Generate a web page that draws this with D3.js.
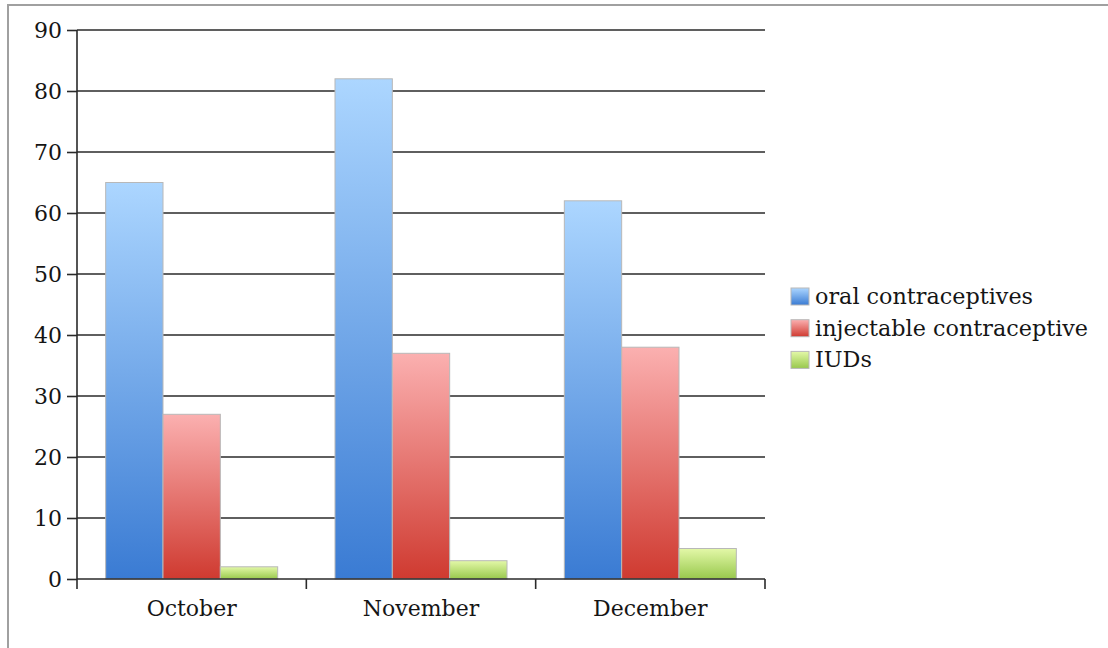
<!DOCTYPE html>
<html>
<head>
<meta charset="utf-8">
<script src="https://cdn.jsdelivr.net/npm/d3@7"></script>
<style>
  html, body { margin: 0; padding: 0; background: #fff; }
  svg { display: block; }
  text { font-family: "DejaVu Serif", "Liberation Serif", serif; fill: #151515; }
</style>
</head>
<body>
<svg id="chart" width="1108" height="648"></svg>
<script>
// Monthly counts per contraceptive method
const months = ["October", "November", "December"];
const seriesNames = ["oral contraceptives", "injectable contraceptive", "IUDs"];
const oral = [65, 82, 62];
const injectable = [27, 37, 38];
const iuds = [2, 3, 5];
const yTicks = [0, 10, 20, 30, 40, 50, 60, 70, 80, 90];

const seriesValues = [oral, injectable, iuds];
const gradients = [
  { id: "gBlue", top: "#acd6ff", bottom: "#3a7bd3" },
  { id: "gRed", top: "#fbb0b0", bottom: "#cf3a30" },
  { id: "gGreen", top: "#e3f8a8", bottom: "#98c84c" }
];

const svg = d3.select("#chart");
const plot = { left: 77, right: 765, top: 30, bottom: 579 };

// outer frame
svg.append("rect")
  .attr("x", 8).attr("y", 5)
  .attr("width", 1200).attr("height", 700)
  .attr("fill", "none").attr("stroke", "#a0a0a0").attr("stroke-width", 2);

const defs = svg.append("defs");
gradients.forEach(g => {
  const lg = defs.append("linearGradient").attr("id", g.id)
    .attr("x1", 0).attr("y1", 0).attr("x2", 0).attr("y2", 1);
  lg.append("stop").attr("offset", "0%").attr("stop-color", g.top);
  lg.append("stop").attr("offset", "100%").attr("stop-color", g.bottom);
});

const y = d3.scaleLinear().domain([0, 90]).range([plot.bottom, plot.top]);
const x0 = d3.scaleBand().domain(months).range([plot.left, plot.right]).paddingInner(0).paddingOuter(0);
const x1 = d3.scaleBand().domain(seriesNames).range([0, x0.bandwidth()]).paddingOuter(0.5).paddingInner(0);

// horizontal gridlines
svg.append("g").selectAll("line").data(yTicks.filter(t => t > 0)).join("line")
  .attr("x1", plot.left).attr("x2", plot.right)
  .attr("y1", d => y(d)).attr("y2", d => y(d))
  .attr("stroke", "#2a2a2a").attr("stroke-width", 1.6);

// bars
const groups = svg.append("g").selectAll("g").data(months).join("g")
  .attr("transform", d => `translate(${x0(d)},0)`);
groups.selectAll("rect")
  .data((m, i) => seriesNames.map((s, k) => ({ s, k, v: seriesValues[k][i] })))
  .join("rect")
  .attr("x", d => x1(d.s))
  .attr("width", x1.bandwidth())
  .attr("y", d => y(d.v))
  .attr("height", d => y(0) - y(d.v))
  .attr("fill", d => `url(#${gradients[d.k].id})`)
  .attr("stroke", "#b8b8b8").attr("stroke-width", 1);

// y axis
const yAxis = svg.append("g")
  .attr("transform", `translate(${plot.left},0)`)
  .call(d3.axisLeft(y).tickValues(yTicks).tickSize(10).tickPadding(5).tickFormat(d3.format("d")));
yAxis.select(".domain").remove();
yAxis.selectAll(".tick line").attr("stroke", "#2a2a2a").attr("stroke-width", 1.6);
yAxis.selectAll(".tick text").attr("font-size", 22).attr("fill", "#151515")
  .attr("font-family", "DejaVu Serif, serif");
svg.append("line")
  .attr("x1", plot.left).attr("x2", plot.left)
  .attr("y1", plot.top).attr("y2", plot.bottom + 10)
  .attr("stroke", "#2a2a2a").attr("stroke-width", 1.6);

// x axis
const xAxis = svg.append("g")
  .attr("transform", `translate(0,${plot.bottom})`)
  .call(d3.axisBottom(x0).tickSize(0).tickPadding(21));
xAxis.select(".domain").remove();
xAxis.selectAll(".tick text").attr("font-size", 22).attr("fill", "#151515")
  .attr("font-family", "DejaVu Serif, serif");
svg.append("line")
  .attr("x1", plot.left).attr("x2", plot.right)
  .attr("y1", plot.bottom).attr("y2", plot.bottom)
  .attr("stroke", "#2a2a2a").attr("stroke-width", 1.6);
const boundaries = months.map(m => x0(m)).concat([x0(months[months.length - 1]) + x0.bandwidth()]);
svg.append("g").selectAll("line").data(boundaries.slice(1)).join("line")
  .attr("x1", d => d).attr("x2", d => d)
  .attr("y1", plot.bottom).attr("y2", plot.bottom + 10)
  .attr("stroke", "#2a2a2a").attr("stroke-width", 1.6);

// legend
const legend = svg.append("g").attr("transform", "translate(791,288)");
const item = legend.selectAll("g").data(seriesNames).join("g")
  .attr("transform", (d, i) => `translate(0,${i * 31.7})`);
item.append("rect")
  .attr("width", 18).attr("height", 17)
  .attr("fill", (d, i) => `url(#${gradients[i].id})`)
  .attr("stroke", "#b8b8b8").attr("stroke-width", 1);
item.append("text")
  .attr("x", 24).attr("y", 10)
  .attr("dominant-baseline", "middle")
  .attr("font-size", 22.3)
  .text(d => d);
</script>
</body>
</html>
